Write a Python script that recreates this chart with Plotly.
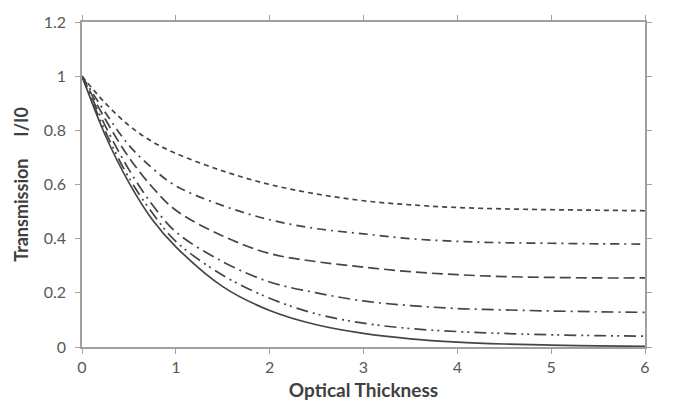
import plotly.graph_objects as go

x_vals = [0, 0.25, 0.5, 0.75, 1, 1.5, 2, 2.5, 3, 3.5, 4, 4.5, 5, 5.5, 6]

series_a = [1, 0.90, 0.818, 0.758, 0.715, 0.65, 0.60, 0.565, 0.54, 0.525, 0.515, 0.51, 0.507, 0.505, 0.503]
series_b = [1, 0.865, 0.745, 0.66, 0.595, 0.522, 0.47, 0.437, 0.418, 0.40, 0.39, 0.385, 0.383, 0.381, 0.38]
series_c = [1, 0.84, 0.70, 0.59, 0.505, 0.41, 0.345, 0.315, 0.295, 0.278, 0.267, 0.26, 0.257, 0.255, 0.255]
series_d = [1, 0.815, 0.655, 0.525, 0.425, 0.315, 0.24, 0.20, 0.17, 0.153, 0.142, 0.137, 0.133, 0.13, 0.128]
series_e = [1, 0.795, 0.625, 0.495, 0.39, 0.265, 0.18, 0.122, 0.088, 0.068, 0.057, 0.05, 0.045, 0.042, 0.04]
series_solid = [1, 0.78, 0.607, 0.47, 0.37, 0.223, 0.135, 0.082, 0.05, 0.03, 0.018, 0.011, 0.007, 0.004, 0.0025]

x_ticks = [0, 1, 2, 3, 4, 5, 6]
y_ticks = [0, 0.2, 0.4, 0.6, 0.8, 1, 1.2]
y_tick_text = ["0", "0.2", "0.4", "0.6", "0.8", "1", "1.2"]

styles = [
    (series_a, "5px,4px"),
    (series_b, "9px,5px,2px,5px"),
    (series_c, "11px,5px"),
    (series_d, "12px,5px,2px,5px"),
    (series_e, "12px,5px,2px,4px,2px,5px"),
    (series_solid, "solid"),
]

fig = go.Figure()
for ys, dash in styles:
    fig.add_trace(go.Scatter(
        x=x_vals, y=ys, mode="lines",
        line=dict(color="#454545", width=1.7, dash=dash, shape="spline", smoothing=1.0),
        showlegend=False, hoverinfo="skip",
    ))

axis_common = dict(
    showgrid=False, zeroline=False, showline=True, linecolor="#a0a0a0", linewidth=1.5,
    ticks="outside", ticklen=5, tickcolor="#a0a0a0", tickwidth=1.2, mirror="ticks",
    tickfont=dict(family="Lato, Open Sans, sans-serif", size=16, color="#595959"),
)

fig.update_layout(
    width=680, height=410,
    margin=dict(l=82, r=35, t=14, b=61),
    paper_bgcolor="white", plot_bgcolor="white",
    xaxis=dict(
        range=[0, 6], tickvals=x_ticks,
        title=dict(text="Optical Thickness", standoff=9,
                   font=dict(family="Lato, Open Sans, sans-serif", size=19, color="#404040", weight="bold")),
        **axis_common,
    ),
    yaxis=dict(
        range=[0, 1.2], tickvals=y_ticks, ticktext=y_tick_text, ticklabelstandoff=6,
        title=dict(text="Transmission&nbsp;&nbsp;&nbsp;&nbsp;&nbsp;I/I0", standoff=10,
                   font=dict(family="Lato, Open Sans, sans-serif", size=18, color="#404040", weight="bold")),
        **axis_common,
    ),
)

fig.write_html("out.html")
